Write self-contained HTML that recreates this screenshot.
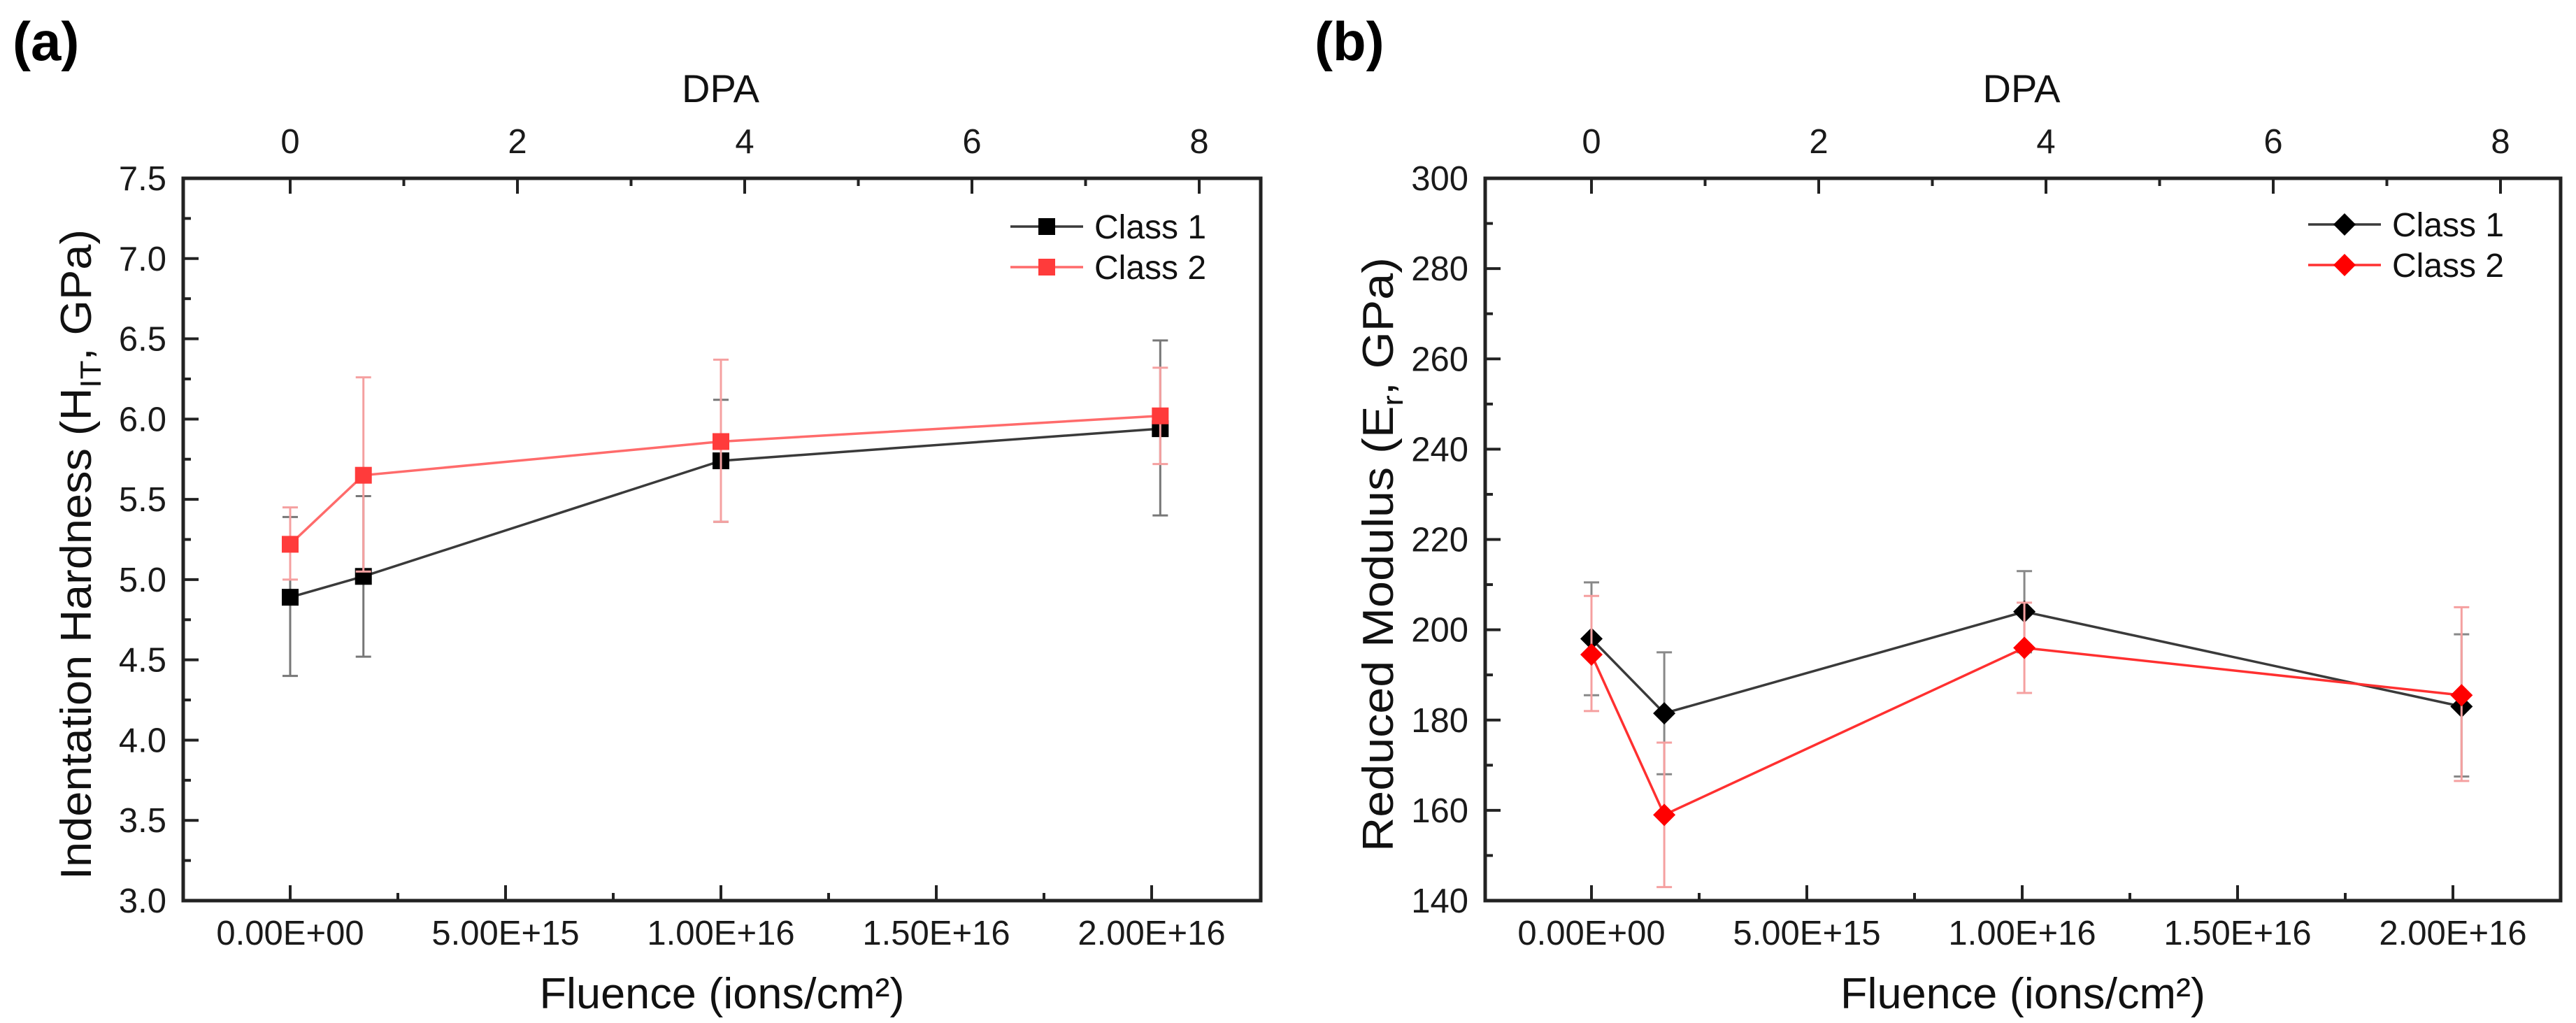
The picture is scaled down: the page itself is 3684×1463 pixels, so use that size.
<!DOCTYPE html>
<html><head><meta charset="utf-8">
<style>
html,body{margin:0;padding:0;background:#fff;}
svg{display:block;font-family:"Liberation Sans",Arial,sans-serif;}
</style></head>
<body>
<svg id="fig" width="3684" height="1463" viewBox="0 0 3684 1463" xmlns="http://www.w3.org/2000/svg"></svg>
<script>
// ---- data ----
const fluenceTicks = [0, 5e15, 1e16, 1.5e16, 2e16];
const fluenceTickLabels = ["0.00E+00", "5.00E+15", "1.00E+16", "1.50E+16", "2.00E+16"];
const dpaTicks = [0, 2, 4, 6, 8];
const hardTicks = [3.0, 3.5, 4.0, 4.5, 5.0, 5.5, 6.0, 6.5, 7.0, 7.5];
const modTicks = [140, 160, 180, 200, 220, 240, 260, 280, 300];
const fluenceA = [0, 1.7e15, 1.0e16, 2.02e16];
const hardC1 = [4.89, 5.02, 5.74, 5.94];
const hardC1Lo = [4.40, 4.52, 5.36, 5.40];
const hardC1Hi = [5.39, 5.52, 6.12, 6.49];
const hardC2 = [5.22, 5.65, 5.86, 6.02];
const hardC2Lo = [5.00, 5.05, 5.36, 5.72];
const hardC2Hi = [5.45, 6.26, 6.37, 6.32];
const fluenceB = [0, 1.69e15, 1.005e16, 2.02e16];
const modC1 = [198, 181.5, 204, 183];
const modC1Lo = [185.5, 168, 195, 167.5];
const modC1Hi = [210.5, 195, 213, 199];
const modC2 = [194.5, 159, 196, 185.5];
const modC2Lo = [182, 143, 186, 166.5];
const modC2Hi = [207.5, 175, 206, 205];

const NS = "http://www.w3.org/2000/svg";
const svg = document.getElementById('fig');
function el(tag, attrs, parent){
  const e = document.createElementNS(NS, tag);
  for (const k in attrs) e.setAttribute(k, attrs[k]);
  (parent||svg).appendChild(e);
  return e;
}

function panel(cfg){
  const g = el('g', {});
  
  
  const L=cfg.left, R=cfg.right, T=255, B=1288;
  const x0=cfg.x0, per5=308;
  const xs = v => x0 + v/5e15*per5;
  const dpaX = d => x0 + d*cfg.perDpa;
  const ys = v => B - (v-cfg.ymin)/(cfg.ymax-cfg.ymin)*(B-T);

  const pl = el('text', {x:cfg.labelX, y:86, 'font-size':78, 'font-weight':'bold', fill:'#000'}, g);
  pl.textContent = cfg.label;
  
  

  const fr = el('rect', {x:L, y:T, width:R-L, height:B-T, fill:'none', stroke:'#222', 'stroke-width':5}, g);
  
  

  fluenceTicks.forEach((v,i)=>{
    const x = xs(v);
    el('line',{x1:x,x2:x,y1:B,y2:B-22,stroke:'#222','stroke-width':4},g);
    if (i<fluenceTicks.length-1){ const xm=xs(v+2.5e15); el('line',{x1:xm,x2:xm,y1:B,y2:B-11,stroke:'#222','stroke-width':4},g); }
    const t = el('text',{x:x,y:1351,'font-size':49,'text-anchor':'middle',fill:'#1a1a1a'},g);
    t.textContent = fluenceTickLabels[i];
    
    
  });
  dpaTicks.forEach((d,i)=>{
    const x = dpaX(d);
    el('line',{x1:x,x2:x,y1:T,y2:T+22,stroke:'#222','stroke-width':4},g);
    if (i<dpaTicks.length-1){ const xm=dpaX(d+1); el('line',{x1:xm,x2:xm,y1:T,y2:T+11,stroke:'#222','stroke-width':4},g); }
    const t = el('text',{x:x,y:219,'font-size':49,'text-anchor':'middle',fill:'#1a1a1a'},g);
    t.textContent = String(d);
    
    
  });
  cfg.yTicks.forEach((v,i)=>{
    const y = ys(v);
    el('line',{x1:L,x2:L+22,y1:y,y2:y,stroke:'#222','stroke-width':4},g);
    if (i<cfg.yTicks.length-1){ const ym=ys(v+cfg.ystep/2); el('line',{x1:L,x2:L+11,y1:ym,y2:ym,stroke:'#222','stroke-width':4},g); }
    const t = el('text',{x:L-24,y:y+17,'font-size':49,'text-anchor':'end',fill:'#1a1a1a'},g);
    t.textContent = cfg.fmt(v);
    
    
  });

  const dt = el('text',{x:(L+R)/2-2,y:146,'font-size':56,'text-anchor':'middle',fill:'#111'},g);
  dt.textContent='DPA';
  
  
  const xt = el('text',{x:(L+R)/2,y:1442,'font-size':62,'text-anchor':'middle',fill:'#111',textLength:522,lengthAdjust:'spacingAndGlyphs'},g);
  xt.textContent='Fluence (ions/cm²)';
  
  
  const yt = el('text',{transform:`translate(${cfg.ytX},793) rotate(-90)`,'font-size':62,'text-anchor':'middle',fill:'#111',textLength:cfg.ytLen,lengthAdjust:'spacingAndGlyphs'},g);
  yt.innerHTML = cfg.ytHtml;
  
  

  const series = cfg.series;
  series.forEach(s=>{
    const sg = el('g',{},g);
    
    
    s.x.forEach((fx,i)=>{
      const x=xs(fx), y1=ys(s.lo[i]), y2=ys(s.hi[i]);
      el('line',{x1:x,x2:x,y1:y1,y2:y2,stroke:s.err,'stroke-width':3},sg);
      el('line',{x1:x-11,x2:x+11,y1:y1,y2:y1,stroke:s.err,'stroke-width':3},sg);
      el('line',{x1:x-11,x2:x+11,y1:y2,y2:y2,stroke:s.err,'stroke-width':3},sg);
    });
    const pts = s.x.map((fx,i)=>xs(fx)+','+ys(s.y[i])).join(' ');
    const pl2 = el('polyline',{points:pts,fill:'none',stroke:s.line,'stroke-width':3.5},sg);
    
    
    s.x.forEach((fx,i)=>{
      const x=xs(fx), y=ys(s.y[i]);
      let m;
      if (cfg.marker==='square') m = el('rect',{x:x-12,y:y-12,width:24,height:24,fill:s.mark},sg);
      else m = el('polygon',{points:`${x},${y-16} ${x+16},${y} ${x},${y+16} ${x-16},${y}`,fill:s.mark},sg);
      
      
    });
  });

  const lg = el('g',{},g);
  
  
  series.forEach((s,i)=>{
    const y = cfg.legY[i];
    const e = el('g',{},lg);
    
    
    el('line',{x1:cfg.legX,x2:cfg.legX+104,y1:y,y2:y,stroke:s.line,'stroke-width':3.5},e);
    const mx=cfg.legX+52;
    if (cfg.marker==='square') el('rect',{x:mx-12,y:y-12,width:24,height:24,fill:s.mark},e);
    else el('polygon',{points:`${mx},${y-16} ${mx+16},${y} ${mx},${y+16} ${mx-16},${y}`,fill:s.mark},e);
    const t = el('text',{x:cfg.legX+120,y:y+17,'font-size':48,fill:'#111'},e);
    t.textContent = s.label;
  });
}

panel({name:'hardness-panel', label:'(a)', labelX:18, left:262, right:1803, x0:415, perDpa:162.5,
  ymin:3, ymax:7.5, ystep:0.5, yTicks:hardTicks, fmt:v=>v.toFixed(1),
  ytX:130, ytLen:930, ytHtml:'Indentation Hardness (H<tspan font-size="42" dy="14">IT</tspan><tspan dy="-14">, GPa)</tspan>',
  marker:'square', legX:1445, legY:[324,382],
  series:[
    {name:'class-1-series', label:'Class 1', x:fluenceA, y:hardC1, lo:hardC1Lo, hi:hardC1Hi, line:'#3a3a3a', mark:'#000', err:'#777'},
    {name:'class-2-series', label:'Class 2', x:fluenceA, y:hardC2, lo:hardC2Lo, hi:hardC2Hi, line:'#ff6b6b', mark:'#ff3b3b', err:'#f5a0a0'}
  ]});
panel({name:'modulus-panel', label:'(b)', labelX:1880, left:2124, right:3662, x0:2276, perDpa:162.5,
  ymin:140, ymax:300, ystep:20, yTicks:modTicks, fmt:v=>String(v),
  ytX:1992, ytLen:850, ytHtml:'Reduced Modulus (E<tspan font-size="42" dy="14">r</tspan><tspan dy="-14">, GPa)</tspan>',
  marker:'diamond', legX:3301, legY:[321,379],
  series:[
    {name:'class-1-series', label:'Class 1', x:fluenceB, y:modC1, lo:modC1Lo, hi:modC1Hi, line:'#3a3a3a', mark:'#000', err:'#888'},
    {name:'class-2-series', label:'Class 2', x:fluenceB, y:modC2, lo:modC2Lo, hi:modC2Hi, line:'#ff3030', mark:'#ff0000', err:'#f5a0a0'}
  ]});
</script>
</body></html>
